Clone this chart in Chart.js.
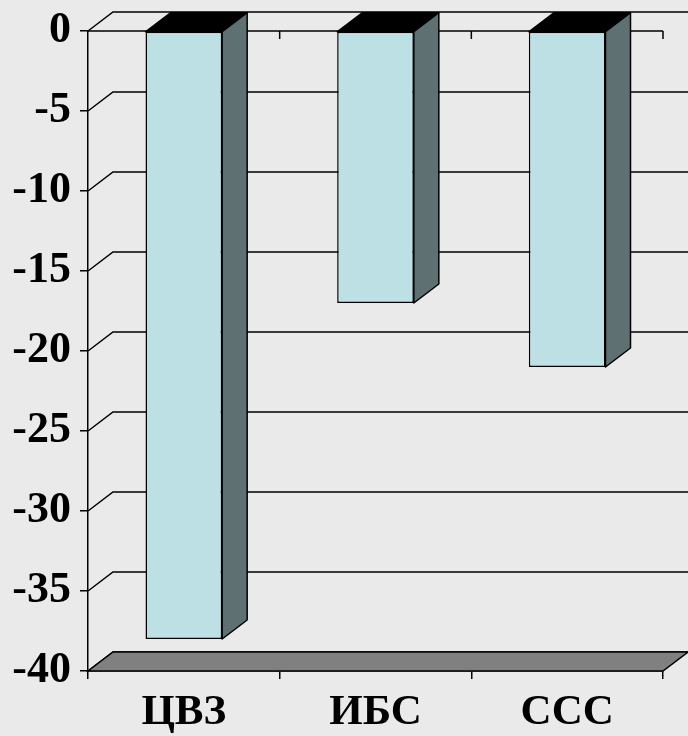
<!DOCTYPE html>
<html>
<head>
<meta charset="utf-8">
<script src="https://cdn.jsdelivr.net/npm/chart.js@4"></script>
<style>
    html, body { margin: 0; padding: 0; background: #eaeaea; }
    #wrap { width: 688px; height: 736px; position: relative; }
</style>
</head>
<body>
<div id="wrap"><canvas id="mortChart"></canvas></div>
<script>
var categories = ['ЦВЗ', 'ИБС', 'ССС'];
var values = [-38, -17, -21];
var yMin = -40;
var yMax = 0;
var yStep = 5;

// depth of the 3d box (pixels to the right and up)
var DX = 25;
var DY = -19;

var depthPlugin = {
    id: 'depth',
    beforeDatasetsDraw: function (chart) {
        var ctx = chart.ctx;
        var a = chart.chartArea;
        var x = chart.scales.x;
        var y = chart.scales.y;
        ctx.save();
        ctx.strokeStyle = '#000';
        ctx.lineWidth = 1.5;

        // back wall grid + side wall diagonals
        y.ticks.forEach(function (t) {
            var py = y.getPixelForValue(t.value);
            ctx.beginPath();
            ctx.moveTo(a.left, py);
            ctx.lineTo(a.left + DX, py + DY);
            ctx.lineTo(a.right + DX, py + DY);
            ctx.stroke();
        });

        // floor
        var fy = y.getPixelForValue(y.min);
        ctx.beginPath();
        ctx.moveTo(a.left, fy);
        ctx.lineTo(a.right, fy);
        ctx.lineTo(a.right + DX, fy + DY);
        ctx.lineTo(a.left + DX, fy + DY);
        ctx.closePath();
        ctx.fillStyle = '#808080';
        ctx.fill();
        ctx.stroke();

        // front zero line with category ticks
        var zy = y.getPixelForValue(0);
        var half = (x.getPixelForValue(1) - x.getPixelForValue(0)) / 2;
        ctx.beginPath();
        ctx.moveTo(a.left, zy);
        ctx.lineTo(a.right, zy);
        for (var i = 0; i < categories.length; i++) {
            var bx = x.getPixelForValue(i) + half;
            ctx.moveTo(bx, zy);
            ctx.lineTo(bx, zy + 8);
        }
        ctx.stroke();
        ctx.restore();
    },
    afterDatasetsDraw: function (chart) {
        var ctx = chart.ctx;
        var meta = chart.getDatasetMeta(0);
        ctx.save();
        ctx.strokeStyle = '#000';
        ctx.lineWidth = 1.5;
        ctx.lineJoin = 'round';
        meta.data.forEach(function (bar) {
            var p = bar.getProps(['x', 'y', 'base', 'width'], true);
            var l = p.x - p.width / 2;
            var r = p.x + p.width / 2;
            var top = Math.min(p.y, p.base);
            var bot = Math.max(p.y, p.base);

            // top face
            ctx.beginPath();
            ctx.moveTo(l, top);
            ctx.lineTo(l + DX, top + DY);
            ctx.lineTo(r + DX, top + DY);
            ctx.lineTo(r, top);
            ctx.closePath();
            ctx.fillStyle = '#000';
            ctx.fill();
            ctx.stroke();

            // right side face
            ctx.beginPath();
            ctx.moveTo(r, top);
            ctx.lineTo(r + DX, top + DY);
            ctx.lineTo(r + DX, bot + DY);
            ctx.lineTo(r, bot);
            ctx.closePath();
            ctx.fillStyle = '#5e7071';
            ctx.fill();
            ctx.stroke();
        });
        ctx.restore();
    }
};

var mortCtx = document.getElementById('mortChart').getContext('2d');
var mortChart = new Chart(mortCtx, {
    type: 'bar',
    data: {
        labels: categories,
        datasets: [{
            data: values,
            backgroundColor: '#bce0e3',
            borderColor: '#000',
            borderWidth: 1.5,
            borderSkipped: false,
            barPercentage: 0.4,
            categoryPercentage: 1
        }]
    },
    options: {
        responsive: true,
        maintainAspectRatio: false,
        animation: false,
        layout: {
            padding: { left: 0, right: 25, top: 31, bottom: 0 }
        },
        scales: {
            x: {
                offset: true,
                afterFit: function (s) {
                    s.height = 65;
                    s.paddingLeft = 0;
                    s.paddingRight = 0;
                },
                grid: {
                    offset: true,
                    drawOnChartArea: false,
                    color: '#000',
                    lineWidth: 1.5,
                    tickLength: 8
                },
                border: { color: '#000', width: 1.5 },
                ticks: {
                    color: '#000',
                    padding: 8,
                    font: { family: 'Liberation Serif', weight: 'bold', size: 43 }
                }
            },
            y: {
                min: yMin,
                max: yMax,
                afterFit: function (s) {
                    s.width = 88;
                    s.paddingTop = 0;
                    s.paddingBottom = 0;
                },
                ticks: {
                    stepSize: yStep,
                    color: '#000',
                    padding: 9,
                    font: { family: 'Liberation Serif', weight: 'bold', size: 44 }
                },
                grid: {
                    drawOnChartArea: false,
                    color: '#000',
                    lineWidth: 1.5,
                    tickLength: 8
                },
                border: { color: '#000', width: 1.5 }
            }
        },
        plugins: {
            legend: { display: false },
            tooltip: { enabled: false }
        }
    },
    plugins: [depthPlugin]
});
</script>
</body>
</html>
